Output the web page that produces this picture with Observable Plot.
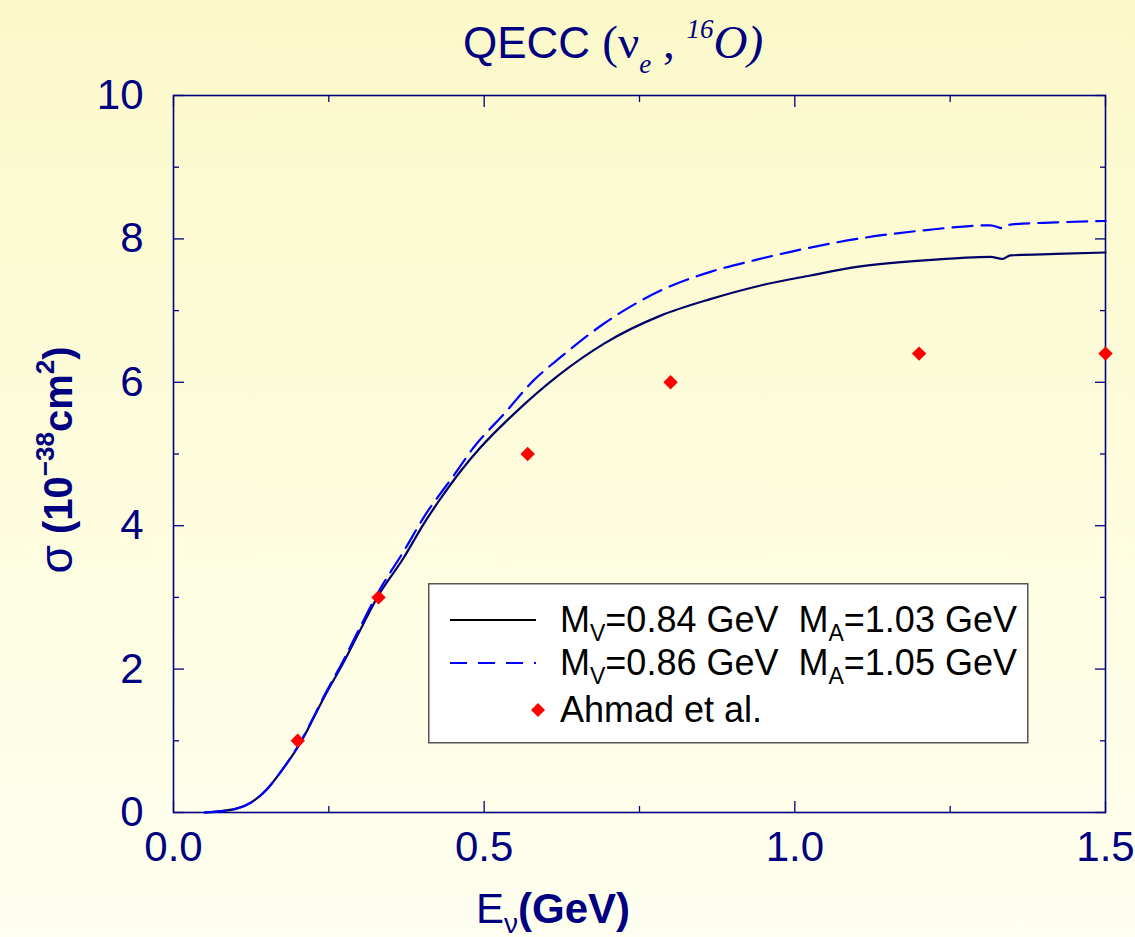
<!DOCTYPE html>
<html>
<head>
<meta charset="utf-8">
<script src="https://cdn.jsdelivr.net/npm/d3@7"></script>
<script src="https://cdn.jsdelivr.net/npm/@observablehq/plot@0.6"></script>
<style>
  html, body { margin: 0; padding: 0; }
  body { width: 1135px; height: 937px; overflow: hidden;
         background: linear-gradient(#fbf9c9, #fffff0); position: relative;
         font-family: "Liberation Sans", Arial, sans-serif; }
  #title { position: absolute; left: 463px; top: 7px; line-height: 70px; height: 70px;
           font-size: 44px; color: #000080; white-space: nowrap; }
  #title .serif { font-family: "Liberation Serif", "Times New Roman", serif; font-size: 47px; }
  #title .sm { font-style: italic; font-size: 27px; position: relative; }
  #chart { position: absolute; left: 0; top: 70px; }
  #legend { position: absolute; left: 428px; top: 583px; }
</style>
</head>
<body>
<div id="title">QECC <span class="serif">(ν<span class="sm" style="top:15px">e</span> , <span class="sm" style="top:-20px">16</span><i>O</i><i>)</i></span></div>
<div id="chart"></div>
<svg id="legend" width="601" height="161"></svg>
<script>
// ---- data ----
const energyMv084 = [0.05, 0.10, 0.15, 0.172, 0.20, 0.247, 0.274, 0.296, 0.328, 0.371, 0.403, 0.430, 0.462, 0.494, 0.548, 0.620, 0.693, 0.784, 0.864, 0.945, 1.025, 1.10, 1.208, 1.315, 1.334, 1.347, 1.42, 1.50];
const sigmaMv084  = [0.00, 0.05, 0.32, 0.56, 0.91, 1.68, 2.10, 2.47, 3.00, 3.56, 4.03, 4.38, 4.76, 5.09, 5.56, 6.10, 6.54, 6.93, 7.16, 7.35, 7.49, 7.61, 7.70, 7.75, 7.72, 7.77, 7.79, 7.81];
const energyMv086 = [0.05, 0.10, 0.15, 0.172, 0.20, 0.247, 0.274, 0.296, 0.328, 0.371, 0.403, 0.451, 0.483, 0.532, 0.580, 0.623, 0.693, 0.784, 0.864, 0.934, 0.993, 1.10, 1.208, 1.315, 1.334, 1.347, 1.42, 1.50];
const sigmaMv086  = [0.00, 0.05, 0.32, 0.56, 0.92, 1.70, 2.13, 2.51, 3.05, 3.65, 4.12, 4.70, 5.09, 5.56, 6.03, 6.35, 6.82, 7.28, 7.54, 7.70, 7.82, 8.00, 8.12, 8.19, 8.15, 8.20, 8.23, 8.25];
const energyAhmad = [0.20, 0.33, 0.57, 0.80, 1.20, 1.50];
const sigmaAhmad  = [1.0, 3.0, 5.0, 6.0, 6.4, 6.4];
const xMajorTicks = [0, 0.5, 1.0, 1.5];
const xMinorTicks = [0.25, 0.75, 1.25];
const yMajorTicks = [0, 2, 4, 6, 8, 10];
const yMinorTicks = [1, 3, 5, 7, 9];
const seriesLabels = ["M_V=0.84 GeV  M_A=1.03 GeV", "M_V=0.86 GeV  M_A=1.05 GeV", "Ahmad et al."];

const curve84 = energyMv084.map((e, i) => ({E: e, s: sigmaMv084[i]}));
const curve86 = energyMv086.map((e, i) => ({E: e, s: sigmaMv086[i]}));
const ahmad = energyAhmad.map((e, i) => ({E: e, s: sigmaAhmad[i]}));

const navy = "#000080";
const tickAxes = [];
for (const anchor of ["bottom", "top"]) {
  tickAxes.push(Plot.axisX({anchor, ticks: xMajorTicks, tickSize: -11, text: null, label: null, stroke: navy, strokeWidth: 1.3}));
  tickAxes.push(Plot.axisX({anchor, ticks: xMinorTicks, tickSize: -6, text: null, label: null, stroke: navy, strokeWidth: 1.3}));
}
for (const anchor of ["left", "right"]) {
  tickAxes.push(Plot.axisY({anchor, ticks: yMajorTicks, tickSize: -11, text: null, label: null, stroke: navy, strokeWidth: 1.3}));
  tickAxes.push(Plot.axisY({anchor, ticks: yMinorTicks, tickSize: -6, text: null, label: null, stroke: navy, strokeWidth: 1.3}));
}

const plot = Plot.plot({
  width: 1135, height: 867,
  marginLeft: 173, marginRight: 30, marginTop: 25, marginBottom: 125,
  style: {background: "transparent", color: navy, fontFamily: "Liberation Sans, Arial, sans-serif", fontSize: "42px", overflow: "visible"},
  x: {domain: [0, 1.5], label: null},
  y: {domain: [0, 10], label: null},
  marks: [
    ...tickAxes,
    Plot.axisX({anchor: "bottom", ticks: xMajorTicks, tickSize: 0, tickPadding: 19, label: null, tickFormat: d3.format(".1f"), fill: navy, fontSize: 42}),
    Plot.axisY({anchor: "left", ticks: yMajorTicks, tickSize: 0, tickPadding: 30, label: null, tickFormat: d3.format("d"), fill: navy, fontSize: 42}),
    Plot.frame({stroke: navy, strokeWidth: 1.6}),
    Plot.line(curve84, {x: "E", y: "s", stroke: "#000066", strokeWidth: 2.2, curve: "monotone-x"}),
    Plot.line(curve86, {x: "E", y: "s", stroke: "#0000ff", strokeWidth: 2.2, strokeDasharray: "20,9", curve: "monotone-x"}),
    Plot.dot(ahmad, {x: "E", y: "s", symbol: "diamond2", r: 6.5, fill: "#ff0000", stroke: "none"})
  ]
});
document.getElementById("chart").appendChild(plot);

// axis titles
const svg = d3.select(plot);
const yl = svg.append("text")
  .attr("transform", "translate(72,390) rotate(-90)")
  .attr("text-anchor", "middle")
  .attr("fill", navy).attr("font-weight", "bold").attr("font-size", 40)
  .attr("font-family", "Liberation Sans, Arial, sans-serif");
yl.append("tspan").attr("font-weight", "normal").attr("font-size", 46).text("σ");
yl.append("tspan").text(" (10");
yl.append("tspan").attr("font-size", 26).attr("dy", -18).text("−38");
yl.append("tspan").attr("dy", 18).text("cm");
yl.append("tspan").attr("font-size", 26).attr("dy", -18).text("2");
yl.append("tspan").attr("dy", 18).text(")");

const xl = svg.append("text")
  .attr("x", 553).attr("y", 853)
  .attr("fill", navy).attr("font-size", 42)
  .attr("font-family", "Liberation Sans, Arial, sans-serif");
xl.append("tspan").text("E");
xl.append("tspan").attr("font-size", 28).attr("dy", 10).text("ν");
xl.append("tspan").attr("dy", -10).attr("font-weight", "bold").text("(GeV)");

// legend
const lg = d3.select("#legend");
lg.append("rect").attr("x", 0.75).attr("y", 0.75).attr("width", 599).attr("height", 159)
  .attr("fill", "#ffffff").attr("stroke", "#555555").attr("stroke-width", 1.5);
const rowsY = [37, 80, 127];
lg.append("line").attr("x1", 22).attr("x2", 108).attr("y1", rowsY[0]).attr("y2", rowsY[0])
  .attr("stroke", "#000000").attr("stroke-width", 2);
lg.append("line").attr("x1", 22).attr("x2", 108).attr("y1", rowsY[1]).attr("y2", rowsY[1])
  .attr("stroke", "#0000ff").attr("stroke-width", 2).attr("stroke-dasharray", "17,11");
lg.append("path").attr("d", d3.symbol(d3.symbolDiamond2, 40 * 3.14)())
  .attr("transform", `translate(110,${rowsY[2]})`).attr("fill", "#ff0000");
seriesLabels.forEach((lab, i) => {
  const t = lg.append("text").attr("x", 132).attr("y", rowsY[i] + 12)
    .attr("font-size", 36).attr("fill", "#000000")
    .attr("font-family", "Liberation Sans, Arial, sans-serif")
    .attr("xml:space", "preserve").style("white-space", "pre");
  const parts = lab.split(/(_[VA])/).filter(p => p.length);
  let pendingDy = 0;
  parts.forEach(p => {
    if (p.startsWith("_")) {
      t.append("tspan").attr("font-size", 23).attr("dy", 9).text(p.slice(1));
      pendingDy = -9;
    } else {
      t.append("tspan").attr("dy", pendingDy).text(p.replace(/  /g, "\u00a0 "));
      pendingDy = 0;
    }
  });
});
</script>
</body>
</html>
